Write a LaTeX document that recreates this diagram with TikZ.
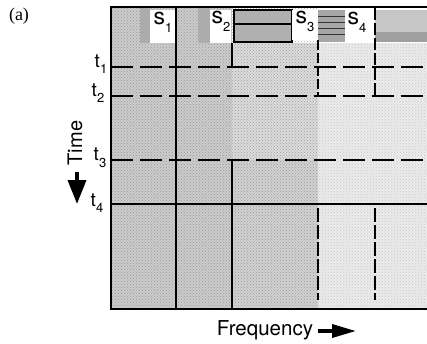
\documentclass[tikz,border=0pt]{standalone}
\usepackage{fontspec}
\setmainfont{TeX Gyre Heros}
\newfontfamily\timesfont{Liberation Serif}
\usetikzlibrary{arrows.meta,patterns}

\newcommand{\sublab}[2]{#1\raisebox{-0.35em}{\fontsize{13}{13}\selectfont #2}}

\begin{document}
\begin{tikzpicture}[x=1pt, y=-1pt, every node/.style={inner sep=0pt},
  grain/.style={pattern=crosshatch dots, pattern color=black!55},
  cut/.style={line width=1.6pt, dash pattern=on 22pt off 7pt},
  edge/.style={line width=1.1pt}]
\useasboundingbox (0,0) rectangle (427,343);
% stippled spectrogram
\fill[gray!40] (111,8) rectangle (232,309);
\fill[gray!28] (232,43) rectangle (318,160);
\fill[gray!36] (232,160) rectangle (318,309);
\fill[gray!16] (318,43) rectangle (427,309);
\fill[grain, opacity=0.6] (111,8) rectangle (318,309);
\fill[grain, opacity=0.3] (318,43) rectangle (427,309);
% top band
\fill[gray!65] (140,8) rectangle (150,43);
\fill[gray!65] (198,8) rectangle (210,43);
\fill[white] (150,10) rectangle (175,43);
\fill[white] (210,10) rectangle (231,43);
\fill[gray!62] (234,10) rectangle (292,42);
\draw[edge] (234,10) rectangle (292,42);
\draw[edge] (234,24) -- (292,24);
\fill[white] (292,10) rectangle (318,40);
\fill[gray!70] (318,10) rectangle (345,42);
\foreach \y in {16,22,28,34} \draw[black!80] (318,\y) -- (345,\y);
\fill[white] (345,10) rectangle (373,40);
\fill[gray!45] (375,10) rectangle (427,42);
\fill[gray!75] (375,32) rectangle (427,42);
% labels of the bands
\node (s1) at (163,22) {\fontsize{23}{23}\selectfont\sublab{s}{1}};
\node (s2) at (221,21) {\fontsize{23}{23}\selectfont\sublab{s}{2}};
\node (s3) at (305,21) {\fontsize{23}{23}\selectfont\sublab{s}{3}};
\node (s4) at (357,22) {\fontsize{23}{23}\selectfont\sublab{s}{4}};
% frame
\draw[line width=2pt] (427,7) -- (111,7) -- (111,309) -- (427,309);
% time cuts
\foreach \y/\w in {67/1.4pt,96/2pt,160/1.8pt}
  \draw[cut, line width=\w] (111,\y) -- (427,\y);
\draw[line width=2pt] (111,204) -- (427,204);
% frequency cuts
\draw[edge] (176,8) -- (176,309);
\draw[edge] (232,43) -- (232,67);
\draw[edge] (232,160) -- (232,309);
\draw[edge, dash pattern=on 10pt off 3pt] (318,40) -- (318,96);
\draw[line width=2pt, dash pattern=on 14pt off 3pt] (318,208) -- (318,300);
\draw[edge, dash pattern=on 12pt off 3pt] (375,8) -- (375,96);
\draw[line width=2pt, dash pattern=on 14pt off 3pt] (375,208) -- (375,300);
% time labels
\node (t1) at (101,64) {\fontsize{19}{19}\selectfont\sublab{t}{1}};
\node (t2) at (98,93) {\fontsize{19}{19}\selectfont\sublab{t}{2}};
\node (t3) at (100,158) {\fontsize{19}{19}\selectfont\sublab{t}{3}};
\node (t4) at (97,203) {\fontsize{19}{19}\selectfont\sublab{t}{4}};
\node[rotate=90] (time) at (75,143) {\fontsize{20}{20}\selectfont Time};
\coordinate (timeA) at (77,172);
\coordinate (timeB) at (77,204);
\draw[line width=3.5pt, -{Triangle[length=24pt,width=18pt]}] (timeA) -- (timeB);
% frequency label
\node (freq) at (265,330) {\fontsize{20.5}{20.5}\selectfont Frequency};
\coordinate (freqA) at (318,331);
\coordinate (freqB) at (356,331);
\draw[line width=3.5pt, -{Triangle[length=24pt,width=13pt]}] (freqA) -- (freqB);
\node (panel) at (19,16) {\fontsize{18}{18}\selectfont\timesfont (a)};
\end{tikzpicture}
\end{document}
